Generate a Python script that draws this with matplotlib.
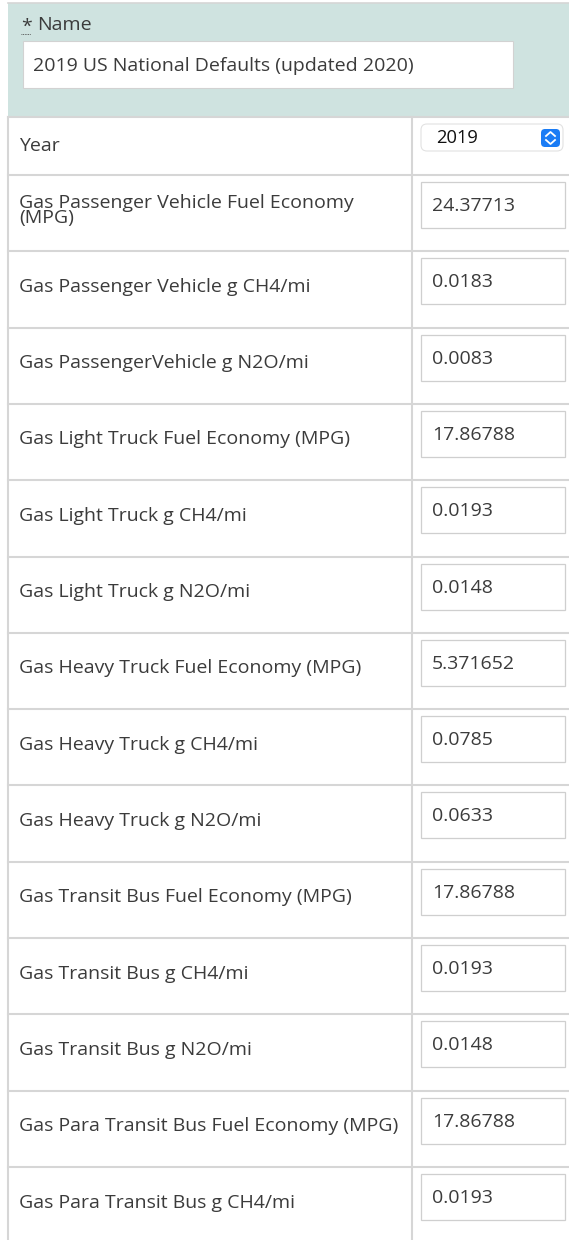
import matplotlib
matplotlib.use("Agg")
import matplotlib.pyplot as plt
from matplotlib.patches import Rectangle, FancyBboxPatch

plt.rcParams['font.family'] = ['Open Sans', 'DejaVu Sans']

# form content
name_label = "Name"
name_value = "2019 US National Defaults (updated 2020)"
year_label = "Year"
year_value = "2019"
labels = [
    "Gas Passenger Vehicle Fuel Economy\n(MPG)",
    "Gas Passenger Vehicle g CH4/mi",
    "Gas PassengerVehicle g N2O/mi",
    "Gas Light Truck Fuel Economy (MPG)",
    "Gas Light Truck g CH4/mi",
    "Gas Light Truck g N2O/mi",
    "Gas Heavy Truck Fuel Economy (MPG)",
    "Gas Heavy Truck g CH4/mi",
    "Gas Heavy Truck g N2O/mi",
    "Gas Transit Bus Fuel Economy (MPG)",
    "Gas Transit Bus g CH4/mi",
    "Gas Transit Bus g N2O/mi",
    "Gas Para Transit Bus Fuel Economy (MPG)",
    "Gas Para Transit Bus g CH4/mi",
]
values = ["24.37713", "0.0183", "0.0083", "17.86788", "0.0193", "0.0148",
          "5.371652", "0.0785", "0.0633", "17.86788", "0.0193", "0.0148",
          "17.86788", "0.0193"]

W, H = 569, 1240
fig = plt.figure(figsize=(W / 100, H / 100), dpi=100)
ax = fig.add_axes([0, 0, 1, 1])
ax.set_xlim(0, W)
ax.set_ylim(H, 0)
ax.axis('off')

text_c = '#3b3b3b'
line_c = '#d6d6d6'
fs = 14.0

# header
ax.add_patch(Rectangle((8, 3), W - 8, 114, facecolor='#cfe3e0', edgecolor='none'))
ax.plot([8, W], [3, 3], color=line_c, lw=1.2)
ax.text(21, 27, "*", fontsize=fs, color=text_c, va='center')
ax.plot([21, 31], [34, 34], color=text_c, lw=0.6, ls=(0, (1, 1)))
ax.text(37, 25, name_label, fontsize=fs, color=text_c, va='center')
ax.add_patch(Rectangle((23, 41), 490, 47, facecolor='white', edgecolor='#d2d2d2', lw=0.8))
ax.text(33, 66, name_value, fontsize=fs, color=text_c, va='center')

# table grid
row0 = 175
rh = (1167 - row0) / 13
col = 412
ax.plot([8, W], [117, 117], color=line_c, lw=1.5)
ax.plot([8, 8], [117, H], color=line_c, lw=1.5)
ax.plot([col, col], [117, H], color=line_c, lw=1.5)

# year row
ax.plot([8, W], [row0, row0], color=line_c, lw=1.5)
ax.text(19, 146, year_label, fontsize=fs, color=text_c, va='center')
ax.add_patch(FancyBboxPatch((421, 124), 142, 27, boxstyle="round,pad=0,rounding_size=6",
                            facecolor='white', edgecolor='#e2e2e2', lw=0.8))
ax.text(436, 138, year_value, fontsize=fs - 0.8, color='#111111', va='center')
ax.add_patch(FancyBboxPatch((541, 129), 19, 18, boxstyle="round,pad=0,rounding_size=4",
                            facecolor='#1a7cf5', edgecolor='none'))
ax.plot([546, 550.5, 555], [136, 132, 136], color='white', lw=1.3)
ax.plot([546, 550.5, 555], [140, 144, 140], color='white', lw=1.3)

# data rows
for i, (lab, val) in enumerate(zip(labels, values)):
    top = row0 + i * rh
    ax.plot([8, W], [top + rh, top + rh], color=line_c, lw=1.5)
    ax.text(19, top + 35.5, lab, fontsize=fs, color=text_c, va='center', linespacing=0.82)
    ax.add_patch(Rectangle((421, top + 7), 144, 46, facecolor='white',
                           edgecolor='#cfcfcf', lw=0.9))
    ax.text(432, top + 31, val, fontsize=fs, color=text_c, va='center')

fig.savefig('out.png', dpi=100)
